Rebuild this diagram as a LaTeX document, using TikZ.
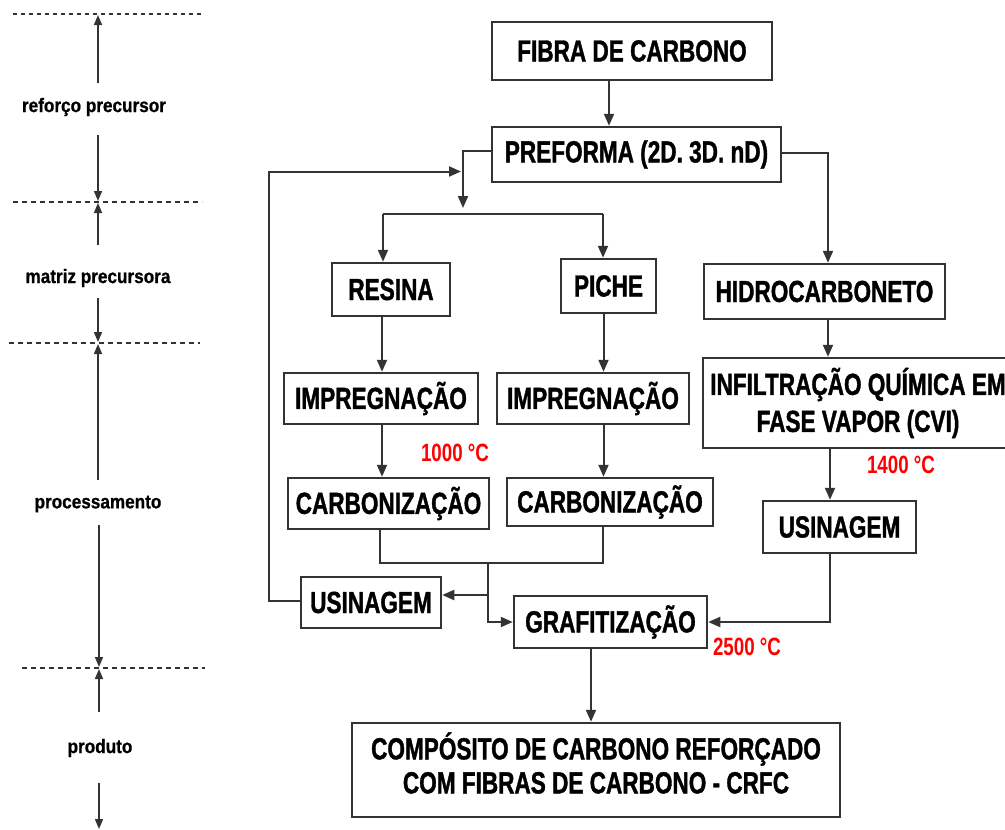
\documentclass[tikz,border=0pt]{standalone}
\usepackage{fontspec}
\setmainfont{Liberation Sans}
\newfontfamily\boxfont{Liberation Sans}[FakeStretch=0.74,FakeBold=1.2]
\newfontfamily\sidefont{Liberation Sans}[FakeStretch=0.88,FakeBold=0.8]
\newfontfamily\tempfont{Liberation Sans}[FakeStretch=0.75]
\usetikzlibrary{arrows.meta}
\definecolor{ln}{HTML}{333333}
\definecolor{tred}{HTML}{FF0000}
\begin{document}
\begin{tikzpicture}[x=1pt,y=-1pt,
  box/.style={draw=ln,line width=2.5pt,inner sep=0pt,align=center,
    font={\boxfont\bfseries\fontsize{30.5}{37}\selectfont}},
  txt/.style={inner sep=0pt,align=center,
    font={\boxfont\bfseries\fontsize{30.5}{34}\selectfont}},
  temp/.style={inner sep=0pt,text=tred,font={\tempfont\bfseries\fontsize{25}{28}\selectfont}},
  side/.style={inner sep=0pt,font={\sidefont\bfseries\fontsize{19.5}{22}\selectfont}},
  conn/.style={draw=ln,line width=2pt},
  arr/.style={conn,-{Triangle[length=12pt,width=10pt]}},
  axarr/.style={draw=ln,line width=1.6pt,-{Triangle[length=10pt,width=8pt]}},
  dashl/.style={draw=ln,line width=1.3pt,dash pattern=on 5pt off 4pt},
  dashtop/.style={draw=ln,line width=2pt,dash pattern=on 4pt off 4pt}]
\useasboundingbox (0,0) rectangle (1005,830);
\clip (0,0) rectangle (1005,830);

% left axis
\draw[dashtop] (13,14) -- (203,14);
\draw[dashl] (13,202) -- (202,202);
\draw[dashl] (9,343) -- (200,343);
\draw[dashl] (22,668) -- (205,668);
\node[side] (l1) at (94,107) {reforço precursor};
\node[side] (l2) at (98,278) {matriz precursora};
\node[side] (l3) at (98,504) {processamento};
\node[side] (l4) at (100,748) {produto};
\draw[axarr] (98,83) -- (98,15);
\draw[axarr] (98,135) -- (98,201);
\draw[axarr] (98,245) -- (98,203);
\draw[axarr] (98,298) -- (98,342);
\draw[axarr] (98,480) -- (98,344);
\draw[axarr] (99,525) -- (99,667);
\draw[axarr] (99,712) -- (99,669);
\draw[axarr] (99,783) -- (99,829);

% boxes
\node[box,minimum width=280pt,minimum height=58pt] (fibra) at (632,51) {FIBRA DE CARBONO};
\node[box,minimum width=289pt,minimum height=55pt] (preforma) at (636.5,154.5) {PREFORMA (2D. 3D. nD)};
\node[box,minimum width=118pt,minimum height=53pt] (resina) at (391,289.5) {RESINA};
\node[box,minimum width=95pt,minimum height=54pt] (piche) at (608.5,286) {PICHE};
\node[box,minimum width=241pt,minimum height=55pt] (hidro) at (824.5,291.5) {HIDROCARBONETO};
\node[box,minimum width=194pt,minimum height=51pt] (imp1) at (381,398.5) {IMPREGNAÇÃO};
\node[box,minimum width=192pt,minimum height=51pt] (imp2) at (593,398.5) {IMPREGNAÇÃO};
\node[box,minimum width=310pt,minimum height=90pt] (cvi) at (858,403) {INFILTRAÇÃO QUÍMICA EM\\FASE VAPOR (CVI)};
\node[box,minimum width=201pt,minimum height=51pt] (carb1) at (388.5,503.5) {CARBONIZAÇÃO};
\node[box,minimum width=206pt,minimum height=48pt] (carb2) at (610,502) {CARBONIZAÇÃO};
\node[box,minimum width=153pt,minimum height=52pt] (usin2) at (839.5,527) {USINAGEM};
\node[box,minimum width=140pt,minimum height=51pt] (usin1) at (371,602.5) {USINAGEM};
\node[box,minimum width=193pt,minimum height=52pt] (graf) at (610.5,622) {GRAFITIZAÇÃO};
\node[box,minimum width=488pt,minimum height=94pt] (crfc) at (596,770) {};
\node[txt] (crfct) at (596,763) {COMPÓSITO DE CARBONO REFORÇADO\\COM FIBRAS DE CARBONO - CRFC};

% temperatures
\node[temp] (t1) at (455,453) {1000 °C};
\node[temp] (t2) at (901,465) {1400 °C};
\node[temp] (t3) at (747,647) {2500 °C};

% connectors
\coordinate (xa) at (609,0);
\draw[arr] (fibra.south -| xa) -- (preforma.north -| xa);
\coordinate (split) at (463,208);
\draw[arr] ([yshift=3.5pt]preforma.west) -| (split);
\coordinate (bl) at (383,214);
\coordinate (br) at (603,214);
\draw[conn] (bl) -- (br);
\draw[arr] (bl) -- (resina.north -| bl);
\draw[arr] (br) -- (piche.north -| br);
\coordinate (fb) at (269,171.5);
\coordinate (fbend) at (461,171.5);
\draw[arr] ([yshift=1.5pt]usin1.west) -| (fb) -- (fbend);
\coordinate (xh) at (828,0);
\draw[arr] ([yshift=1.5pt]preforma.east) -| (hidro.north -| xh);
\draw[arr] (hidro.south -| xh) -- (cvi.north -| xh);
\coordinate (xu) at (830,0);
\draw[arr] (cvi.south -| xu) -- (usin2.north -| xu);
\draw[arr] (usin2.south -| xu) |- (graf.east);
\coordinate (xr) at (382,0);
\draw[arr] (resina.south -| xr) -- (imp1.north -| xr);
\draw[arr] (imp1.south -| xr) -- (carb1.north -| xr);
\coordinate (xp) at (603.5,0);
\draw[arr] (piche.south -| xp) -- (imp2.north -| xp);
\draw[arr] (imp2.south -| xp) -- (carb2.north -| xp);
\coordinate (j1) at (380,563);
\coordinate (j2) at (603,563);
\coordinate (jm) at (488,563);
\coordinate (jt) at (488,595);
\draw[conn] (carb1.south -| j1) -- (j1) -- (j2) -- (carb2.south -| j2);
\draw[arr] (jm) |- (graf.west);
\draw[arr] (jt) -- (usin1.east |- jt);
\coordinate (xg) at (591,0);
\draw[arr] (graf.south -| xg) -- (crfc.north -| xg);
\end{tikzpicture}
\end{document}
